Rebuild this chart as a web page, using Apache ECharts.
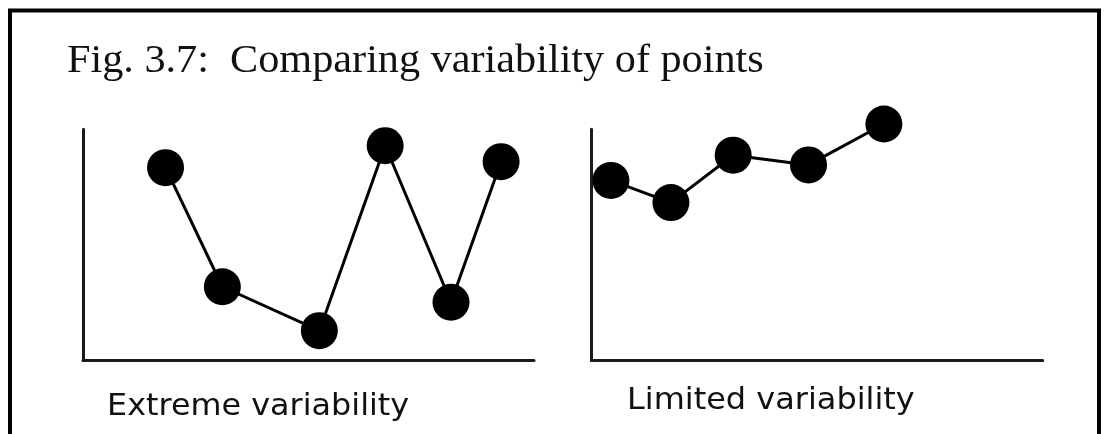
<!DOCTYPE html>
<html>
<head>
<meta charset="utf-8">
<script src="https://cdn.jsdelivr.net/npm/echarts@6/dist/echarts.min.js"></script>
<style>html,body{margin:0;padding:0;background:#fff}#c{width:1106px;height:434px}</style>
</head>
<body>
<div id="c"></div>
<script>
var figTitle = 'Fig. 3.7:  Comparing variability of points';
var panelLabels = ['Extreme variability', 'Limited variability'];
var extremeX = [18.3, 30.9, 52.4, 67.0, 81.6, 92.7];
var extremeY = [83.4, 31.9, 12.9, 92.9, 25.2, 86.0];
var limitedX = [4.3, 17.6, 31.4, 48.1, 64.8];
var limitedY = [77.9, 68.3, 88.8, 84.6, 102.3];

function pairs(xs, ys) { return xs.map(function (x, i) { return [x, ys[i]]; }); }

var chart = echarts.init(document.getElementById('c'), null, {renderer: 'canvas'});
var axisLine = {show: true, onZero: false, lineStyle: {color: '#1a1a1a', width: 3}};
function axis(idx) {
  return {type: 'value', gridIndex: idx, min: 0, max: 100, axisLine: axisLine,
    axisTick: {show: false}, axisLabel: {show: false}, splitLine: {show: false}};
}
var series = [pairs(extremeX, extremeY), pairs(limitedX, limitedY)].map(function (d, i) {
  return {type: 'line', xAxisIndex: i, yAxisIndex: i, data: d, clip: false,
    symbol: 'circle', symbolSize: 37, showSymbol: true,
    itemStyle: {color: '#000'}, lineStyle: {color: '#000', width: 3}, silent: true};
});
chart.setOption({
  animation: false,
  grid: [
    {left: 83, top: 129.3, width: 451, height: 231.2},
    {left: 591.5, top: 129.3, width: 451.2, height: 231.2}
  ],
  xAxis: [axis(0), axis(1)],
  yAxis: [axis(0), axis(1)],
  series: series,
  graphic: [
    {type: 'rect', shape: {x: 10, y: 10.5, width: 1089, height: 500},
      style: {fill: null, stroke: '#000', lineWidth: 4}, z: 10},
    {type: 'text', x: 67, y: 61.5, scaleX: 1.03,
      style: {text: figTitle, font: '41px "Liberation Serif"', fill: '#111', verticalAlign: 'middle'}},
    {type: 'text', x: 107, y: 407, scaleX: 1.062,
      style: {text: panelLabels[0], font: '30px "DejaVu Sans"', fill: '#111', verticalAlign: 'middle'}},
    {type: 'text', x: 627, y: 401, scaleX: 1.065,
      style: {text: panelLabels[1], font: '30px "DejaVu Sans"', fill: '#111', verticalAlign: 'middle'}}
  ]
});
</script>
</body>
</html>
